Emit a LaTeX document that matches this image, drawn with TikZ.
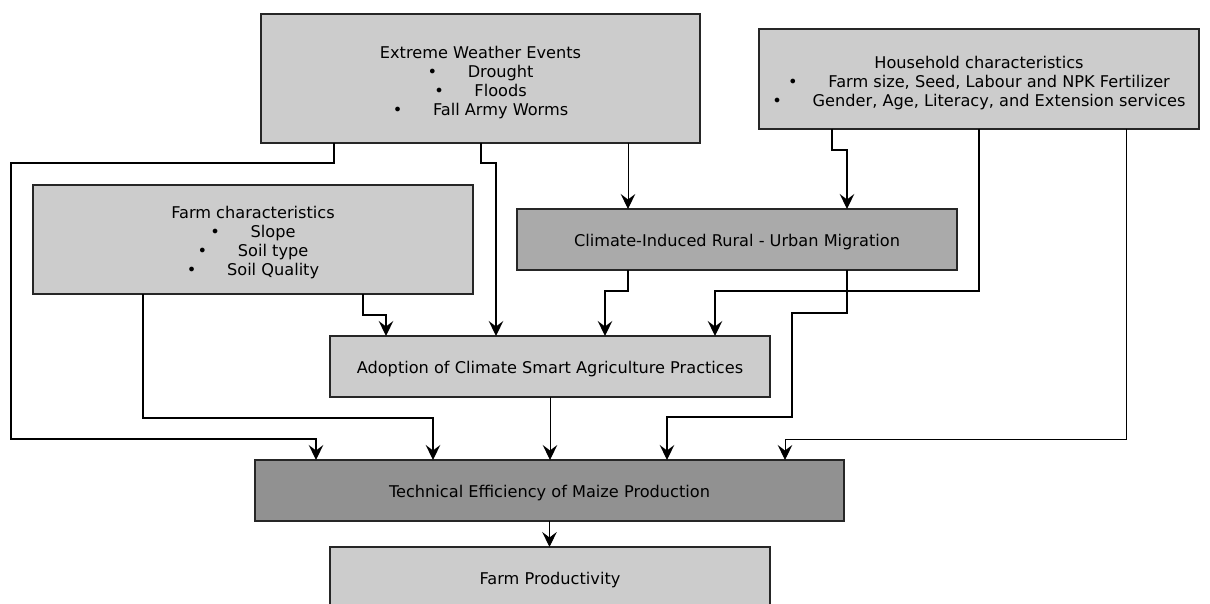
\documentclass[tikz,border=0pt]{standalone}
\usepackage{fontspec}
\setmainfont{DejaVu Sans}
\usepackage{xcolor}
\usepackage{tikz}
\usetikzlibrary{arrows.meta}
\definecolor{lightbox}{RGB}{204,204,204}
\definecolor{midbox}{RGB}{170,170,170}
\definecolor{darkbox}{RGB}{145,145,145}
\tikzstyle{block} = [draw=black!85, line width=0.7pt, fill=lightbox, minimum width=8.8cm, minimum height=1.22cm, inner sep=0pt, outer sep=0pt, align=center, font=\fontsize{9.2}{10.8}\selectfont, text height=10.4pt, text depth=2.2pt]
\tikzstyle{arrow} = [line width=0.7pt, -{Stealth[length=0.3cm, width=0.29cm, inset=0.11cm]}]
\tikzstyle{thinarrow} = [arrow, line width=0.55pt]
\newcommand{\bitem}[1]{\textbullet\hspace{1.9em}#1}

\begin{document}
\begin{tikzpicture}[x=0.02cm, y=-0.02cm]
    \clip (0,0) rectangle (1210,603);
    % boxes
    \node[block, text height=43.9pt, minimum width=8.78cm, minimum height=2.58cm] (ewe) at (480.5,78.5) {Extreme Weather Events\\ \bitem{Drought}\\ \bitem{Floods}\\ \bitem{Fall Army Worms}};
    \node[block, text height=33.1pt, minimum height=2cm] (house) at (979,79) {Household characteristics\\ \bitem{Farm size, Seed, Labour and NPK Fertilizer}\\ \bitem{Gender, Age, Literacy, and Extension services}};
    \node[block, text height=42.8pt, minimum height=2.18cm] (farm) at (253,239.5) {Farm characteristics\\ \bitem{Slope}\\ \bitem{Soil type}\\ \bitem{Soil Quality}};
    \node[block, fill=midbox] (migr) at (737,239.5) {Climate-Induced Rural - Urban Migration};
    \node[block] (adopt) at (550,366.5) {Adoption of Climate Smart Agriculture Practices};
    \node[block, fill=darkbox, minimum width=11.78cm] (te) at (549.5,490.5) {Technical Efficiency of Maize Production};
    \node[block] (fp) at (550,577.5) {Farm Productivity};

    % links
    \draw[arrow] (ewe.south -| 334,0) |- (11,163) |- (316,439) -- (te.north -| 316,0);
    \draw[arrow] (ewe.south -| 481,0) -- (481,163) -| (adopt.north -| 496,0);
    \draw[thinarrow] (ewe.south -| 628,0) -- (migr.north -| 628,0);
    \draw[arrow] (house.south -| 832,0) -- (832,150) -| (migr.north -| 847,0);
    \draw[arrow] (house.south -| 979,0) |- (715,291) -- (adopt.north -| 715,0);
    \draw[thinarrow] (house.south -| 1126,0) |- (785,439) -- (te.north -| 785,0);
    \draw[arrow] (farm.south -| 363,0) -- (363,315) -| (adopt.north -| 386,0);
    \draw[arrow] (farm.south -| 143,0) |- (433,418) -- (te.north -| 433,0);
    \draw[arrow] (migr.south -| 628,0) -- (628,291) -| (adopt.north -| 605,0);
    \draw[arrow] (migr.south -| 847,0) -- (847,313) -| (792,417) -| (te.north -| 667,0);
    \draw[thinarrow] (adopt.south) -- (adopt.south |- te.north);
    \draw[thinarrow] (te.south) -- (te.south |- fp.north);
\end{tikzpicture}
\end{document}
